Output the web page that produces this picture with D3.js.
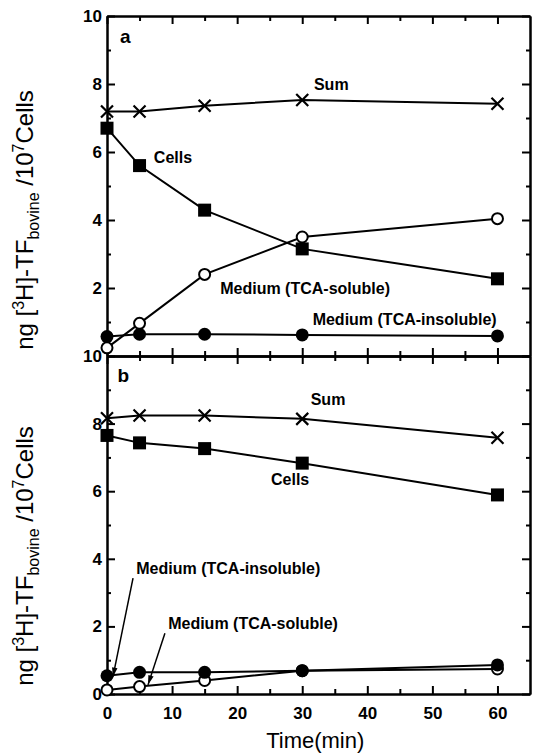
<!DOCTYPE html>
<html>
<head>
<meta charset="utf-8">
<script src="https://cdn.jsdelivr.net/npm/d3@7"></script>
<style>
  body { margin: 0; background: #fff; }
  svg { display: block; font-family: "Liberation Sans", Arial, Helvetica, sans-serif; }
  .axis path, .axis line { stroke: #000; stroke-width: 2; }
  .axis text { font-size: 17px; font-weight: bold; fill: #000; }
  .lbl { font-size: 16px; font-weight: bold; fill: #000; }
</style>
</head>
<body>
<div id="chart"></div>
<script>
// time points (min)
const times = [0, 5, 15, 30, 60];

// panel a
const sumA = [7.19, 7.19, 7.36, 7.53, 7.42];
const cellsA = [6.70, 5.60, 4.29, 3.15, 2.27];
const solubleA = [0.24, 0.96, 2.40, 3.50, 4.04];
const insolubleA = [0.57, 0.64, 0.64, 0.62, 0.59];

// panel b
const sumB = [8.16, 8.24, 8.24, 8.14, 7.58];
const cellsB = [7.65, 7.43, 7.26, 6.83, 5.89];
const solubleB = [0.12, 0.22, 0.40, 0.69, 0.74];
const insolubleB = [0.54, 0.64, 0.64, 0.69, 0.86];

const xTicks = [0, 10, 20, 30, 40, 50, 60];
const xMinor = [5, 15, 25, 35, 45, 55];
const yMajor = [0, 2, 4, 6, 8, 10];
const yMinor = [1, 3, 5, 7, 9];

const W = 535, H = 754;
const svg = d3.select("#chart").append("svg")
    .attr("width", W).attr("height", H);

const x = d3.scaleLinear().domain([0, 65]).range([107, 530]);
const yA = d3.scaleLinear().domain([0, 10]).range([356, 16]);
const yB = d3.scaleLinear().domain([0, 10]).range([694, 356]);

function frame(y, opts) {
    const g = svg.append("g");
    const [y0, y1] = y.range();
    // left axis with labels
    g.append("g").attr("class", "axis")
        .attr("transform", `translate(${x(0)},0)`)
        .call(d3.axisLeft(y).tickValues(opts.yLabels).tickSize(-8).tickSizeOuter(0).tickPadding(5)
            .tickFormat(d3.format("d")));
    g.append("g").attr("class", "axis")
        .attr("transform", `translate(${x(0)},0)`)
        .call(d3.axisLeft(y).tickValues(yMinor).tickSize(-4).tickSizeOuter(0).tickFormat(""));
    // right axis
    g.append("g").attr("class", "axis")
        .attr("transform", `translate(${x(65)},0)`)
        .call(d3.axisRight(y).tickValues(yMajor).tickSize(-8).tickSizeOuter(0).tickFormat(""));
    g.append("g").attr("class", "axis")
        .attr("transform", `translate(${x(65)},0)`)
        .call(d3.axisRight(y).tickValues(yMinor).tickSize(-4).tickSizeOuter(0).tickFormat(""));
    // top axis
    g.append("g").attr("class", "axis")
        .attr("transform", `translate(0,${y1})`)
        .call(d3.axisTop(x).tickValues(xTicks).tickSize(-8).tickSizeOuter(0).tickFormat(""));
    g.append("g").attr("class", "axis")
        .attr("transform", `translate(0,${y1})`)
        .call(d3.axisTop(x).tickValues(xMinor).tickSize(-5).tickSizeOuter(0).tickFormat(""));
    // bottom axis
    g.append("g").attr("class", "axis")
        .attr("transform", `translate(0,${y0})`)
        .call(d3.axisBottom(x).tickValues(xTicks).tickSize(-8).tickSizeOuter(0).tickPadding(13)
            .tickFormat(opts.xLabels ? d3.format("d") : ""));
    g.append("g").attr("class", "axis")
        .attr("transform", `translate(0,${y0})`)
        .call(d3.axisBottom(x).tickValues(xMinor).tickSize(-5).tickSizeOuter(0).tickFormat(""));
}

function series(y, vals, marker) {
    const pts = times.map((t, i) => [t, vals[i]]);
    svg.append("path")
        .datum(pts)
        .attr("fill", "none")
        .attr("stroke", "#000")
        .attr("stroke-width", 2)
        .attr("d", d3.line().x(d => x(d[0])).y(d => y(d[1])));
    const g = svg.append("g");
    pts.forEach(d => {
        const cx = x(d[0]), cy = y(d[1]);
        if (marker === "square") {
            g.append("rect").attr("x", cx - 6.5).attr("y", cy - 6.5)
                .attr("width", 13).attr("height", 13).attr("fill", "#000");
        } else if (marker === "dot") {
            g.append("circle").attr("cx", cx).attr("cy", cy).attr("r", 6.5).attr("fill", "#000");
        } else if (marker === "open") {
            g.append("circle").attr("cx", cx).attr("cy", cy).attr("r", 5.5)
                .attr("fill", "#fff").attr("stroke", "#000").attr("stroke-width", 2);
        } else if (marker === "cross") {
            g.append("path")
                .attr("d", `M${cx - 6},${cy - 6}L${cx + 6},${cy + 6}M${cx - 6},${cy + 6}L${cx + 6},${cy - 6}`)
                .attr("stroke", "#000").attr("stroke-width", 2.2);
        }
    });
}

function label(y, tx, ty, text) {
    svg.append("text").attr("class", "lbl")
        .attr("x", x(tx)).attr("y", y(ty)).text(text);
}

function arrow(y, x1, y1, x2, y2) {
    const px1 = x(x1), py1 = y(y1), px2 = x(x2), py2 = y(y2);
    svg.append("line")
        .attr("x1", px1).attr("y1", py1).attr("x2", px2).attr("y2", py2)
        .attr("stroke", "#000").attr("stroke-width", 1.5);
    const a = Math.atan2(py2 - py1, px2 - px1);
    const L = 10, w = 0.28;
    svg.append("path")
        .attr("d", `M${px2},${py2}L${px2 - L * Math.cos(a - w)},${py2 - L * Math.sin(a - w)}` +
            `L${px2 - L * Math.cos(a + w)},${py2 - L * Math.sin(a + w)}Z`)
        .attr("fill", "#000");
}

function yTitle(yc) {
    const t = svg.append("text")
        .attr("transform", `translate(33,${yc}) rotate(-90)`)
        .attr("text-anchor", "middle")
        .style("font-size", "24px")
        .attr("fill", "#000");
    t.append("tspan").text("ng [");
    t.append("tspan").attr("dy", -9).style("font-size", "16px").text("3");
    t.append("tspan").attr("dy", 9).text("H]-TF");
    t.append("tspan").attr("dy", 6).style("font-size", "16px").text("bovine");
    t.append("tspan").attr("dy", -6).text(" /10");
    t.append("tspan").attr("dy", -9).style("font-size", "16px").text("7");
    t.append("tspan").attr("dy", 9).text("Cells");
}

// panel a
frame(yA, { yLabels: [2, 4, 6, 8, 10], xLabels: false });
series(yA, sumA, "cross");
series(yA, cellsA, "square");
series(yA, insolubleA, "dot");
series(yA, solubleA, "open");
label(yA, 31.8, 7.83, "Sum");
label(yA, 7.2, 5.69, "Cells");
label(yA, 17.4, 1.81, "Medium (TCA-soluble)");
label(yA, 31.6, 0.90, "Medium (TCA-insoluble)");
svg.append("text").attr("x", x(2)).attr("y", yA(9.2))
    .style("font-size", "19px").style("font-weight", "bold").text("a");

// panel b
frame(yB, { yLabels: [0, 2, 4, 6, 8, 10], xLabels: true });
series(yB, sumB, "cross");
series(yB, cellsB, "square");
series(yB, solubleB, "open");
series(yB, insolubleB, "dot");
label(yB, 31.3, 8.54, "Sum");
label(yB, 25.2, 6.17, "Cells");
label(yB, 4.5, 3.55, "Medium (TCA-insoluble)");
label(yB, 9.4, 1.92, "Medium (TCA-soluble)");
arrow(yB, 4.0, 3.43, 0.9, 0.5);
arrow(yB, 8.9, 1.8, 6.3, 0.27);
svg.append("text").attr("x", x(1.6)).attr("y", yB(9.24))
    .style("font-size", "19px").style("font-weight", "bold").text("b");

yTitle(220);
yTitle(556);

svg.append("text")
    .attr("x", x(32)).attr("y", 748)
    .attr("text-anchor", "middle")
    .style("font-size", "22px")
    .text("Time(min)");
</script>
</body>
</html>
